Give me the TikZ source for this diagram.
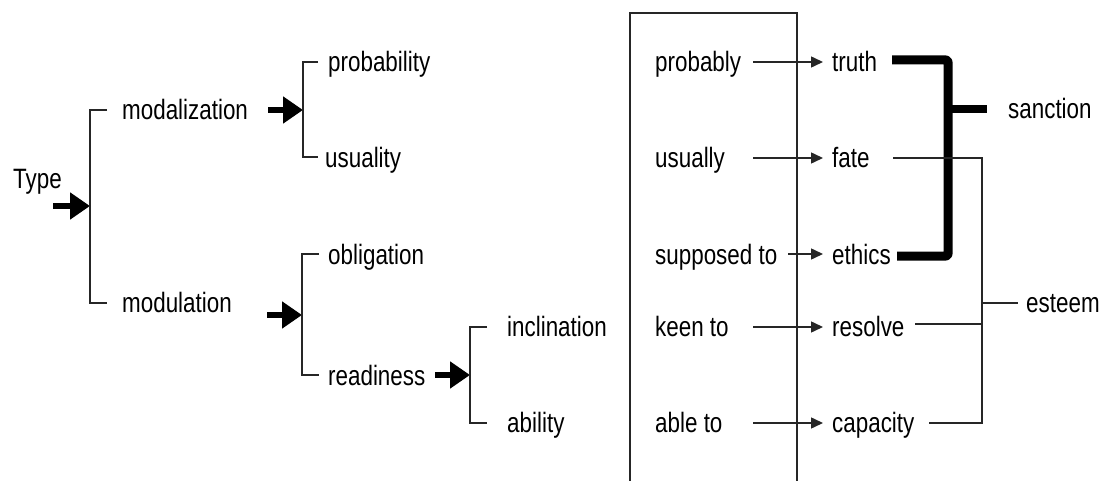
\documentclass[tikz,border=0pt]{standalone}
\usepackage{fontspec}
\setmainfont{Liberation Sans}[FakeStretch=0.8]
\usetikzlibrary{arrows.meta}
\begin{document}
\begin{tikzpicture}[x=1pt,y=-1pt,
  lbl/.style={anchor=base west,inner sep=0pt,font=\fontsize{28}{32}\selectfont},
  thin/.style={line width=1.5pt,draw=black!85},
  thinarrow/.style={thin,-{Triangle[length=12pt,width=11pt]}},
  thickarrow/.style={line width=6pt,-{Triangle[length=20pt,width=26pt]}},
  heavy/.style={line width=9pt,rounded corners=2pt,line join=round}]
\useasboundingbox (0,0) rectangle (1108,481);
% texts
\node[lbl] (type) at (13,189) {Type};
\node[lbl] (modalization) at (122,120) {modalization};
\node[lbl] (modulation) at (122,312) {modulation};
\node[lbl] (probability) at (328,72) {probability};
\node[lbl] (usuality) at (325,168) {usuality};
\node[lbl] (obligation) at (328,264) {obligation};
\node[lbl] (readiness) at (328,385) {readiness};
\node[lbl] (inclination) at (507,336) {inclination};
\node[lbl] (ability) at (507,432) {ability};
\node[lbl] (probably) at (655,72) {probably};
\node[lbl] (usually) at (655,168) {usually};
\node[lbl] (supposed) at (655,264) {supposed to};
\node[lbl] (keen) at (655,336) {keen to};
\node[lbl] (able) at (655,432) {able to};
\node[lbl] (truth) at (832,72) {truth};
\node[lbl] (fate) at (832,168) {fate};
\node[lbl] (ethics) at (832,264) {ethics};
\node[lbl] (resolve) at (832,336) {resolve};
\node[lbl] (capacity) at (832,432) {capacity};
\node[lbl] (sanction) at (1008,119) {sanction};
\node[lbl] (esteem) at (1026,312) {esteem};
% left tree
\coordinate (t0) at (53,206);
\coordinate (b1) at (90,206);
\draw[thickarrow] (t0) -- (b1);
\draw[thin] (107,110) -- (90,110) -- (90,303) -- (107,303);
\coordinate (m0) at (268,110);
\coordinate (b2) at (303,110);
\draw[thickarrow] (m0) -- (b2);
\draw[thin] (318,62) -- (303,62) -- (303,157) -- (318,157);
\coordinate (n0) at (267,315);
\coordinate (b3) at (302,315);
\draw[thickarrow] (n0) -- (b3);
\draw[thin] (319,254) -- (302,254) -- (302,375) -- (319,375);
\coordinate (r0) at (435,375);
\coordinate (b4) at (470,375);
\draw[thickarrow] (r0) -- (b4);
\draw[thin] (487,327) -- (470,327) -- (470,423) -- (487,423);
% box
\draw[thin] (630,490) -- (630,13) -- (797,13) -- (797,490);
% arrows in box
\coordinate (pa) at (753,62);
\coordinate (ua) at (753,158);
\coordinate (sa) at (788,254);
\coordinate (ka) at (753,327);
\coordinate (aa) at (753,423);
\draw[thinarrow,shorten >=9pt] (pa) -- (truth.west |- pa);
\draw[thinarrow,shorten >=9pt] (ua) -- (fate.west |- ua);
\draw[thinarrow,shorten >=9pt] (sa) -- (ethics.west |- sa);
\draw[thinarrow,shorten >=9pt] (ka) -- (resolve.west |- ka);
\draw[thinarrow,shorten >=9pt] (aa) -- (capacity.west |- aa);
% sanction bracket
\draw[heavy] (892,60) -- (948,60) -- (948,256) -- (897,256);
\draw[line width=8pt] (948,109) -- (987,109);
% esteem bracket
\draw[thin] (893,158) -- (982,158) -- (982,423) -- (929,423);
\draw[thin] (915,324) -- (982,324);
\draw[thin] (982,303) -- (1018,303);
\end{tikzpicture}
\end{document}
